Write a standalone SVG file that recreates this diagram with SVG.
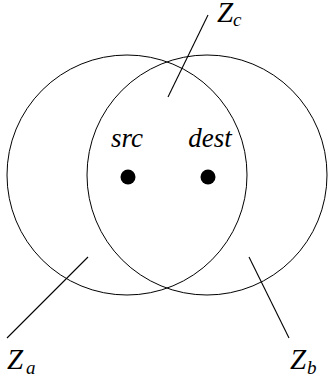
<svg xmlns="http://www.w3.org/2000/svg" width="333" height="383" viewBox="0 0 333 383">
<style>
.c{fill:none;stroke:#000;stroke-width:1}
.l{stroke:#000;stroke-width:1.1}
.t{font-family:"Liberation Serif",serif;font-style:italic;font-size:27px;fill:#000}
.z{font-family:"Liberation Serif",serif;font-style:italic;font-size:29px;fill:#000}
.s{font-family:"Liberation Serif",serif;font-style:italic;font-size:19px;fill:#000}
</style>
<rect width="333" height="383" fill="#fff"/>
<g id="Za"><circle class="c" cx="127" cy="175" r="120"/></g>
<g id="Zb"><circle class="c" cx="207" cy="175" r="120"/></g>
<g id="src"><circle cx="128" cy="177" r="7.5" fill="#000"/><text class="t" x="127" y="147" text-anchor="middle">src</text></g>
<g id="dest"><circle cx="208" cy="177" r="7.5" fill="#000"/><text class="t" x="210" y="147" text-anchor="middle">dest</text></g>
<g id="connectors">
<line class="l" x1="208" y1="15" x2="168" y2="97"/>
<line class="l" x1="88" y1="257" x2="7" y2="338"/>
<line class="l" x1="249" y1="257" x2="289" y2="338"/>
</g>
<g id="labelZc"><text class="z" x="217" y="22">Z</text><text class="s" x="233" y="26">c</text></g>
<g id="labelZa"><text class="z" x="7" y="369">Z</text><text class="s" x="26" y="374">a</text></g>
<g id="labelZb"><text class="z" x="290" y="369">Z</text><text class="s" x="307" y="374">b</text></g>
</svg>
